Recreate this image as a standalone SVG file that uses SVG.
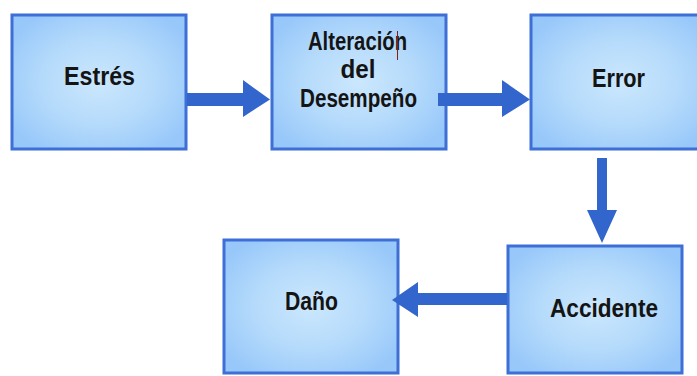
<svg xmlns="http://www.w3.org/2000/svg" width="697" height="376" viewBox="0 0 697 376">
<defs>
<radialGradient id="g" cx="0.5" cy="0.5" r="0.6">
<stop offset="0" stop-color="#cbe7fd"/>
<stop offset="0.55" stop-color="#b4dafb"/>
<stop offset="1" stop-color="#98c8fa"/>
</radialGradient>
<style>
.box{fill:url(#g);stroke:#3d6fd6;stroke-width:3}
.t{font-family:"Liberation Sans",Arial,sans-serif;font-weight:bold;font-size:25px;fill:#141414;text-anchor:middle}
.arr{fill:#3366cc}
</style>
</defs>
<rect width="697" height="376" fill="#ffffff"/>
<g id="estres">
<rect class="box" x="12" y="15" width="174" height="134"/>
<text class="t" x="99.5" y="85" textLength="71" lengthAdjust="spacingAndGlyphs">Estrés</text>
</g>
<g id="alteracion">
<rect class="box" x="272" y="15" width="174" height="134"/>
<text class="t" x="357.5" y="50" textLength="99" lengthAdjust="spacingAndGlyphs">Alteración</text>
<text class="t" x="358" y="78" textLength="35" lengthAdjust="spacingAndGlyphs">del</text>
<text class="t" x="358.5" y="107" textLength="117" lengthAdjust="spacingAndGlyphs">Desempeño</text>
<line x1="397.5" y1="31" x2="397.5" y2="60" stroke="#8b1a10" stroke-width="1"/>
</g>
<g id="error">
<rect class="box" x="531" y="15" width="180" height="134"/>
<text class="t" x="618.5" y="87" textLength="53" lengthAdjust="spacingAndGlyphs">Error</text>
</g>
<g id="accidente">
<rect class="box" x="508" y="246" width="174" height="127"/>
<text class="t" x="604" y="317" textLength="108" lengthAdjust="spacingAndGlyphs">Accidente</text>
</g>
<g id="dano">
<rect class="box" x="224" y="240" width="174" height="133"/>
<text class="t" x="311.5" y="310" textLength="53" lengthAdjust="spacingAndGlyphs">Daño</text>
</g>
<g id="connectors">
<polygon class="arr" points="187,93 243,93 243,80 270,99.5 243,117 243,106 187,106"/>
<polygon class="arr" points="438,93 502,93 502,80 530,99.5 502,117 502,106 438,106"/>
<polygon class="arr" points="597,158 607,158 607,210 617,210 602,243 587,210 597,210"/>
<polygon class="arr" points="507,293 418,293 418,282 392,300 418,317 418,305 507,305"/>
</g>
</svg>
